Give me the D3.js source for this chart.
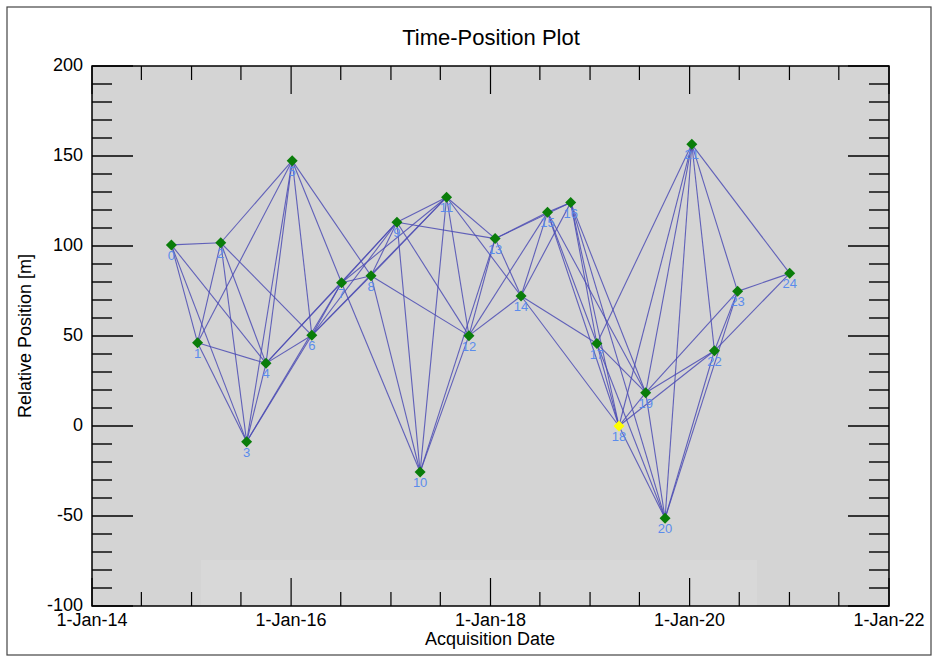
<!DOCTYPE html>
<html>
<head>
<meta charset="utf-8">
<script src="https://cdn.jsdelivr.net/npm/d3@7"></script>
<style>
  html, body { margin: 0; padding: 0; background: #fff; }
  svg { display: block; font-family: "Liberation Sans", Arial, Helvetica, sans-serif; }
</style>
</head>
<body>
<svg id="chart" width="939" height="661"></svg>
<script>
// ---- data ----
const acqDates = ["2014-10-19","2015-01-23","2015-04-18","2015-07-22","2015-10-01",
  "2016-01-05","2016-03-17","2016-07-04","2016-10-20","2017-01-23","2017-04-18",
  "2017-07-24","2017-10-14","2018-01-18","2018-04-23","2018-07-29","2018-10-22",
  "2019-01-26","2019-04-17","2019-07-24","2019-10-03","2020-01-09","2020-04-01",
  "2020-06-25","2021-01-02"];
const positions = [100.6, 46.3, 101.8, -8.7, 34.8, 147.4, 50.4, 79.6, 83.5, 113.2, -25.6,
  127.1, 50.2, 104.1, 72.2, 118.7, 124.1, 45.8, 0, 18.5, -51.3, 156.5, 41.8, 74.8, 84.8];
const imageIds = d3.range(acqDates.length);
const superMaster = 18;
const connFrom = [0,0,0,0, 1,1,1,1, 2,2,2,2, 3,3,3,3, 4,4,4,4, 5,5,5, 6,6,6,6, 7,7,7,7,
  8,8,8,8, 9,9,9,9, 10,10,10, 11,11,11, 12,12,12, 13,13,13, 14,14,14,14, 15,15,15,15,
  16,16,16,16, 17,17,17,17, 18,18,18,18, 19,19,19,19, 20,20,20, 21,21,21, 22,22, 23];
const connTo   = [1,2,3,4, 2,3,4,5, 3,4,5,6, 4,5,6,7, 5,6,7,9, 6,7,8, 7,8,9,11, 8,9,10,11,
  9,10,11,12, 10,11,12,13, 11,12,13, 12,13,14, 13,14,15, 14,15,16, 15,16,17,18, 16,17,18,19,
  17,18,19,20, 18,19,20,21, 19,20,21,22, 20,21,22,23, 21,22,23, 22,23,24, 23,24, 24];
const yTicksMajor = [-100, -50, 0, 50, 100, 150, 200];
const titleText = "Time-Position Plot";
const xLabelText = "Acquisition Date";
const yLabelText = "Relative Position [m]";

// ---- layout ----
const svg = d3.select("#chart");
const L = 92, R = 889, T = 66, B = 606;
const parse = d3.timeParse("%Y-%m-%d");
const dates = acqDates.map(parse);
const x = d3.scaleTime().domain([new Date(2014,0,1), new Date(2022,0,1)]).range([L, R]);
const y = d3.scaleLinear().domain([-100, 200]).range([B, T]);

// outer frame
svg.append("rect").attr("x", 7).attr("y", 7).attr("width", 924).attr("height", 648)
  .attr("fill", "none").attr("stroke", "#444").attr("stroke-width", 1.2);

// plot background
svg.append("rect").attr("x", L).attr("y", T).attr("width", R - L).attr("height", B - T)
  .attr("fill", "#d4d4d4");
svg.append("rect").attr("x", 201).attr("y", 560).attr("width", 556).attr("height", B - 560)
  .attr("fill", "#d8d8d8");

// ticks
const g = svg.append("g");
const yMinor = d3.range(-100, 201, 10);
yMinor.forEach(v => {
  const major = v % 50 === 0;
  const len = major ? 41 : 20;
  g.append("line").attr("x1", L).attr("x2", L + len).attr("y1", y(v)).attr("y2", y(v))
    .attr("stroke", "#000").attr("stroke-width", 1.4);
  g.append("line").attr("x1", R).attr("x2", R - len).attr("y1", y(v)).attr("y2", y(v))
    .attr("stroke", "#000").attr("stroke-width", 1.4);
});
const xMinor = d3.timeMonth.every(6).range(new Date(2014,0,1), new Date(2022,0,2));
xMinor.forEach(d => {
  const major = d.getMonth() === 0 && d.getFullYear() % 2 === 0;
  const len = major ? 28 : 14;
  g.append("line").attr("x1", x(d)).attr("x2", x(d)).attr("y1", B).attr("y2", B - len)
    .attr("stroke", "#000").attr("stroke-width", 1.2);
  g.append("line").attr("x1", x(d)).attr("x2", x(d)).attr("y1", T).attr("y2", T + len)
    .attr("stroke", "#000").attr("stroke-width", 1.2);
});

// connections
const links = connFrom.map((f, i) => ({ s: f, t: connTo[i] }));
svg.append("g").selectAll("line").data(links).join("line")
  .attr("x1", d => x(dates[d.s])).attr("y1", d => y(positions[d.s]))
  .attr("x2", d => x(dates[d.t])).attr("y2", d => y(positions[d.t]))
  .attr("stroke", "#4b4bb4").attr("stroke-opacity", 0.85).attr("stroke-width", 1.1);

// markers
svg.append("g").selectAll("path").data(imageIds).join("path")
  .attr("transform", i => `translate(${x(dates[i])},${y(positions[i])})`)
  .attr("d", "M0,-5.5L5.5,0L0,5.5L-5.5,0Z")
  .attr("fill", i => i === superMaster ? "#ffff00" : "#0a7d0a");

// labels
svg.append("g").selectAll("text").data(imageIds).join("text")
  .attr("x", i => x(dates[i])).attr("y", i => y(positions[i]) + 15)
  .attr("text-anchor", "middle").attr("font-size", 13).attr("fill", "#5b8cec")
  .text(i => i);

// plot border
svg.append("rect").attr("x", L).attr("y", T).attr("width", R - L).attr("height", B - T)
  .attr("fill", "none").attr("stroke", "#000").attr("stroke-width", 1.5);

// tick labels
svg.append("g").selectAll("text").data(yTicksMajor).join("text")
  .attr("x", 83).attr("y", v => y(v) + 5).attr("text-anchor", "end")
  .attr("font-size", 18).attr("fill", "#000").text(v => v);
const fmt = d3.timeFormat("%-d-%b-%y");
svg.append("g").selectAll("text").data(x.ticks(d3.timeYear.every(2))).join("text")
  .attr("x", d => x(d)).attr("y", 626).attr("text-anchor", "middle")
  .attr("font-size", 18).attr("fill", "#000").text(d => fmt(d));

// titles
svg.append("text").attr("x", 491).attr("y", 45).attr("text-anchor", "middle")
  .attr("font-size", 22).attr("fill", "#000").text(titleText);
svg.append("text").attr("x", 490).attr("y", 645).attr("text-anchor", "middle")
  .attr("font-size", 18).attr("fill", "#000").text(xLabelText);
svg.append("text").attr("transform", "translate(31,336) rotate(-90)")
  .attr("text-anchor", "middle").attr("font-size", 18).attr("fill", "#000").text(yLabelText);
</script>
</body>
</html>
